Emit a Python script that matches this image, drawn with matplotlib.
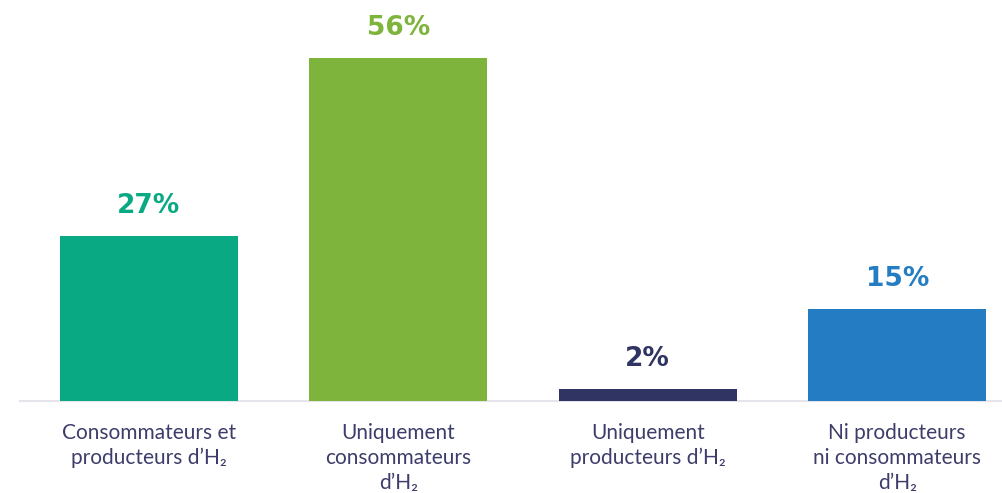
import matplotlib.pyplot as plt

# Share of respondents by H2 profile
categories = [
    "Consommateurs et\nproducteurs d’H₂",
    "Uniquement\nconsommateurs\nd’H₂",
    "Uniquement\nproducteurs d’H₂",
    "Ni producteurs\nni consommateurs\nd’H₂",
]
values = [27, 56, 2, 15]
colors = ["#09aa83", "#7fb43c", "#2f3462", "#247dc3"]

plt.rcParams["font.family"] = ["Lato", "DejaVu Sans"]

W, H = 1002, 493
fig = plt.figure(figsize=(W / 100, H / 100), dpi=100)
# axes placed in pixel terms: baseline 92px from bottom, starting 20px from left
ax = fig.add_axes([20 / W, 92 / H, 1 - 20 / W, 1 - 92 / H])

x = range(len(values))
ax.bar(x, values, width=0.712, color=colors, zorder=2)

ax.set_xlim(-0.516, 3.42)
ax.set_ylim(0, 401 / 6.12)

for i, (v, c) in enumerate(zip(values, colors)):
    ax.annotate(f"{v}%", (i, v), xytext=(0, 16.5), textcoords="offset points",
                ha="center", va="baseline", fontsize=19, fontweight="bold",
                color=c, family="DejaVu Sans")

ax.set_xticks(list(x))
ax.set_xticklabels(categories, fontsize=15, color="#3d3d6b", linespacing=1.3)
ax.tick_params(axis="x", length=0, pad=16)
ax.set_yticks([])

for side in ["top", "right", "left"]:
    ax.spines[side].set_visible(False)
ax.spines["bottom"].set_color("#e4e4ea")
ax.spines["bottom"].set_linewidth(1.5)
ax.spines["bottom"].set_zorder(1)

fig.savefig("out.png", dpi=100)
